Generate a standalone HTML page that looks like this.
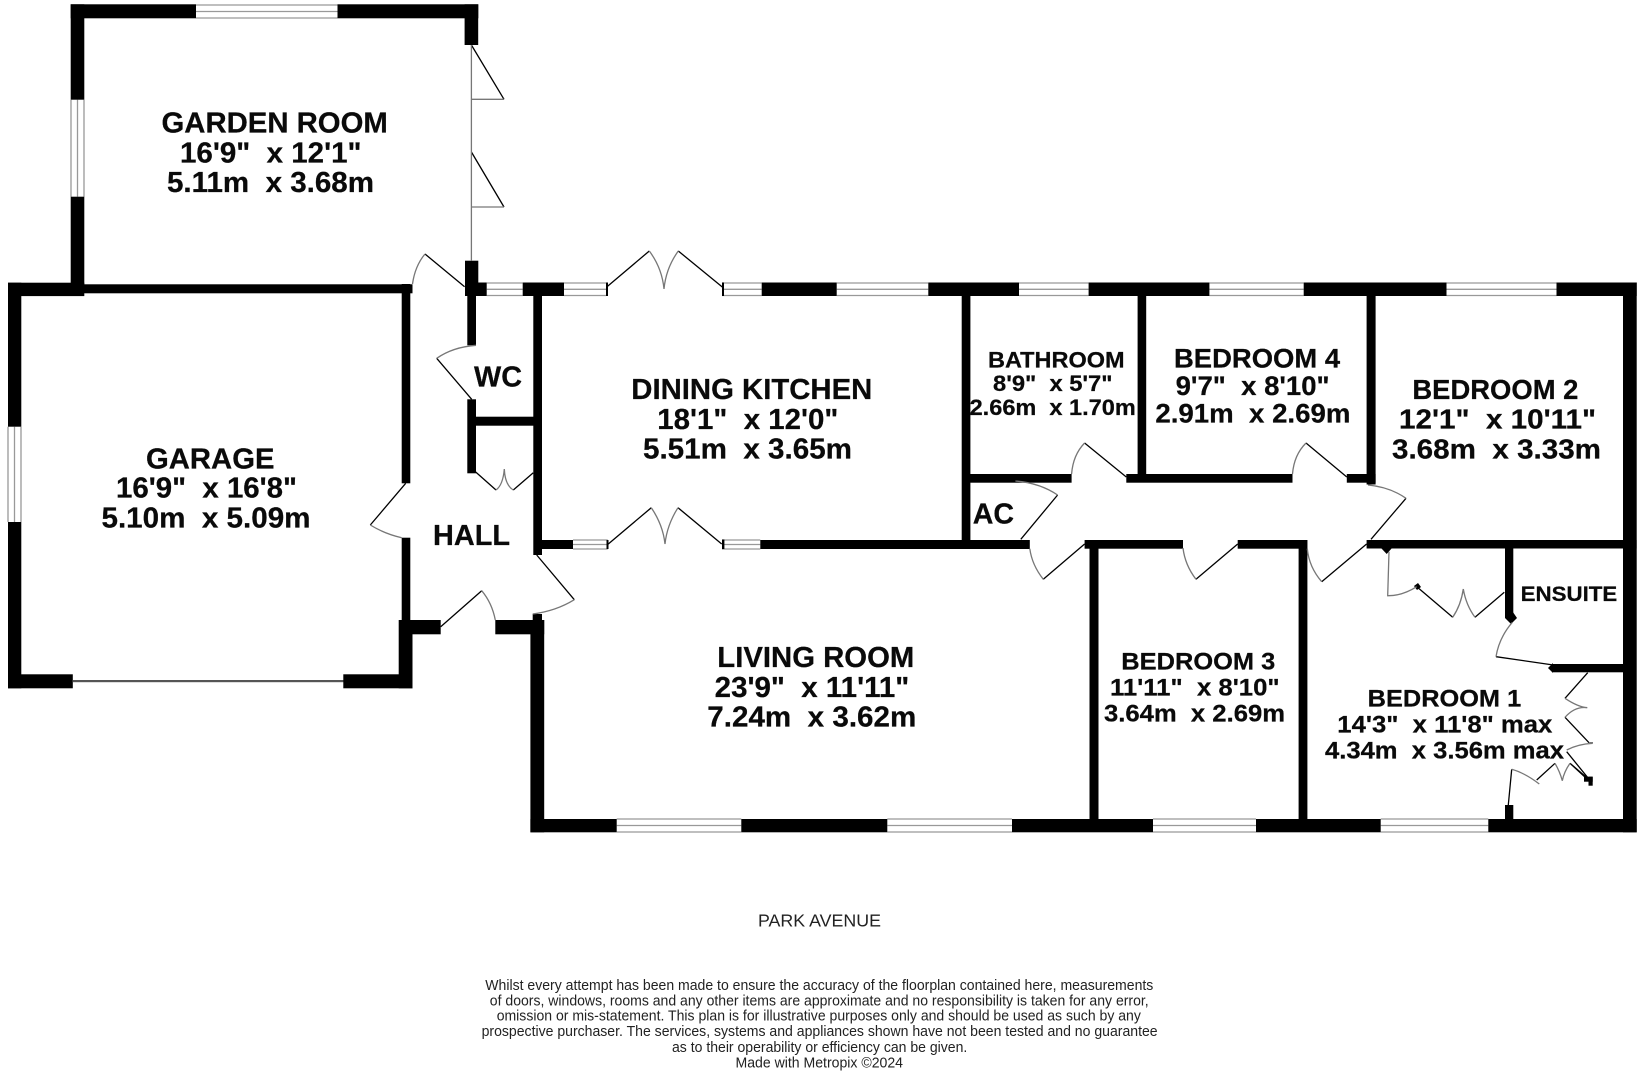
<!DOCTYPE html>
<html><head><meta charset="utf-8"><title>Floor plan</title>
<style>
html,body{margin:0;padding:0;background:#fff}
svg{display:block}
text{font-family:"Liberation Sans",sans-serif;white-space:pre;fill:#0a0a0a}
.b{font-weight:bold}
.b text{stroke:#0a0a0a;stroke-width:.25}
.w{fill:#000}
.g{fill:none;stroke:#777;stroke-width:1.3}
.l{fill:none;stroke:#000;stroke-width:1.3}
.win{fill:none;stroke:#999;stroke-width:1.3}
.f{fill:#222}
.f text{fill:#222}
</style></head><body>
<svg width="1644" height="1075" viewBox="0 0 1644 1075" xmlns="http://www.w3.org/2000/svg">
<rect width="1644" height="1075" fill="#fff"/>
<!-- windows (gray lines) -->
<path class="win" d="M196,5H337.5M196,11.5H337.5M196,18H337.5
M71,99.7V196.7M77.5,99.7V196.7M84,99.7V196.7
M8,426.7V522M14.5,426.7V522M21,426.7V522
M486.7,283H522.7M486.7,289.3H522.7M486.7,295.5H522.7
M564,283H606M564,289.3H606M564,295.5H606
M722,283H761.7M722,289.3H761.7M722,295.5H761.7
M836.7,283H928.3M836.7,289.3H928.3M836.7,295.5H928.3
M1019,283H1088.6M1019,289.3H1088.6M1019,295.5H1088.6
M1209.4,283H1303.7M1209.4,289.3H1303.7M1209.4,295.5H1303.7
M1446.5,283H1556.5M1446.5,289.3H1556.5M1446.5,295.5H1556.5
M573,540H607.7M573,544.5H607.7M573,549H607.7
M722,540H760.3M722,544.5H760.3M722,549H760.3
M616.7,819H741.3M616.7,825.5H741.3M616.7,832H741.3
M887.3,819H1012M887.3,825.5H1012M887.3,832H1012
M1153,819H1256M1153,825.5H1256M1153,832H1256
M1380.7,819H1488.3M1380.7,825.5H1488.3M1380.7,832H1488.3"/>
<rect x="73" y="680" width="270.5" height="2.2" fill="#555"/>
<!-- walls -->
<g class="w">
<rect x="70.7" y="4.3" width="125.3" height="14"/>
<rect x="337.5" y="4.3" width="140.8" height="14"/>
<rect x="70.7" y="4.3" width="13.6" height="95.4"/>
<rect x="70.7" y="196.7" width="13.6" height="96"/>
<rect x="464.6" y="4.3" width="13.6" height="40.7"/>
<rect x="465" y="260.7" width="13.3" height="35.3"/>
<rect x="465" y="282.5" width="21.7" height="13.5"/>
<rect x="8" y="282.7" width="76.3" height="13.4"/>
<rect x="84" y="284.3" width="328.5" height="9"/>
<rect x="8" y="282.7" width="13.3" height="144"/>
<rect x="8" y="522" width="13.3" height="166.3"/>
<rect x="8" y="674.3" width="64.8" height="14"/>
<rect x="343.3" y="674.3" width="69.2" height="14"/>
<rect x="401.7" y="284" width="8.6" height="199.3"/>
<rect x="401.7" y="537.7" width="8.6" height="83"/>
<rect x="398.7" y="620" width="13.8" height="68.3"/>
<rect x="399" y="620" width="41.7" height="14.3"/>
<rect x="495.3" y="620" width="48.9" height="14.3"/>
<rect x="532.7" y="614" width="9.3" height="12"/>
<rect x="467.3" y="296" width="8.7" height="49.3"/>
<rect x="467.3" y="399.3" width="8.7" height="74"/>
<rect x="476" y="416.7" width="58" height="9"/>
<rect x="533.3" y="282.5" width="8.7" height="272.5"/>
<rect x="522.7" y="282.5" width="41.3" height="13.5"/>
<rect x="761.7" y="282.5" width="75" height="13.5"/>
<rect x="928.3" y="282.5" width="90.7" height="13.5"/>
<rect x="1088.6" y="282.5" width="120.8" height="13.5"/>
<rect x="1303.7" y="282.5" width="142.8" height="13.5"/>
<rect x="1556.5" y="282.5" width="80.2" height="13.5"/>
<rect x="1623" y="282.5" width="13.7" height="549.8"/>
<rect x="961.7" y="282.5" width="8.7" height="266"/>
<rect x="1137.6" y="282.5" width="8.6" height="195"/>
<rect x="1366.6" y="282.5" width="9" height="202"/>
<rect x="970" y="474" width="101.6" height="8.7"/>
<rect x="1126.3" y="474" width="166.2" height="8.7"/>
<rect x="1346.8" y="474" width="28.8" height="8.7"/>
<rect x="542" y="540" width="31" height="9"/>
<rect x="760.3" y="540" width="269.5" height="9"/>
<rect x="1084.6" y="540" width="98.4" height="8.7"/>
<rect x="1237.7" y="540" width="69.6" height="8.7"/>
<rect x="1366.6" y="540" width="270" height="8.5"/>
<rect x="530.4" y="620" width="13.8" height="212.3"/>
<rect x="530.4" y="819" width="86.3" height="13.3"/>
<rect x="741.3" y="819" width="146" height="13.3"/>
<rect x="1012" y="819" width="141" height="13.3"/>
<rect x="1256" y="819" width="124.7" height="13.3"/>
<rect x="1488.3" y="819" width="148.4" height="13.3"/>
<rect x="1089.5" y="540" width="9" height="285"/>
<rect x="1298.6" y="540" width="8.8" height="285"/>
<rect x="1505" y="548" width="8.3" height="70"/>
<rect x="1553" y="664" width="70" height="8.3"/>
<rect x="1505" y="805" width="8.3" height="15"/>
<rect x="1584" y="776.7" width="8.7" height="5"/>
<rect x="1588.5" y="776.7" width="4.2" height="9"/>
<rect x="606" y="282.5" width="2" height="13.5"/>
<rect x="722" y="282.5" width="2" height="13.5"/>
<rect x="606.5" y="540" width="2" height="9"/>
<rect x="722" y="539.5" width="2.4" height="9.5"/>
<path d="M1505,616L1511.5,610 1517,618 1511,624 1505,618Z"/>
<path d="M1553,663L1548,668 1553,673Z"/>
<path d="M1381,548H1392L1386.7,554Z"/>
<path d="M1414,586L1418,583 1421,587 1417,590Z"/>
</g>
<!-- door leaves -->
<path class="l" d="M464.6,286.7L425,254
M405.7,483.3L370.3,525
M436.7,358.3L471.7,399.3
M472.3,469L496,490M513.3,490L533.3,472.7
M607,286.7L649.3,251M678.3,251L722.3,287
M608.3,544L651.3,507.7M678,507.7L721.7,544
M536.7,555L574.3,599.7
M440.7,626.7L481.7,590.7
M471.4,45L504,99.3M471.4,152L504,207
M1084.6,443L1126.3,477M1306,443L1346.8,477
M1057.6,495L1020.8,539.3M1406,498.3L1371,539.3
M1043.3,579.3L1084.6,544M1196,579.3L1237.7,544M1321.7,581.7L1366.6,544
M1418.3,588L1452.7,617.3M1475,617.3L1504.3,592.3
M1496,656.7L1553.3,665
M1587.7,672.7L1565,698.3M1565,717.3L1589,742.7
M1566.7,751.7L1588.3,778.3M1570,763.3L1586,778
M1536.7,780L1555,763.3M1570,763.3L1586,777
M1511.7,769.3L1508.3,805"/>
<!-- door swings -->
<path class="g" d="M412.5,284Q415,266 425,254
M401.7,537.7Q385,534 370.3,525
M476,345.3Q453,347 436.7,358.3
M496,490Q503,485 504.3,469M513.3,490Q505,485 504.3,469
M649.3,251Q662,268 664,289M678.3,251Q666,268 664,289
M651.3,507.7Q663,525 665,544M678,507.7Q667,525 665,544
M574.3,599.7Q556,611 532.7,614
M481.7,590.7Q492,603 495.3,620
M471.4,45V261M471.4,99.3H504M471.4,207H504
M1071.6,474Q1073,455 1084.6,443M1292.5,474Q1294,455 1306,443
M1015.4,481Q1040,483 1057.6,495M1368,485Q1390,487 1406,498.3
M1029.8,548.7Q1032,565 1043.3,579.3M1183,548Q1185,565 1196,579.3M1307.3,548.7Q1309,567 1321.7,581.7
M1389,551.7L1387.7,595.7Q1402,596 1416.7,586.7
M1452.7,617.3Q1461,605 1463.3,589M1475,617.3Q1466,605 1463.3,589
M1512,622.7Q1499,638 1496,656.7
M1565,698.3Q1578,707 1587.3,707.7Q1575,706 1565,717.3
M1589,742.7H1593M1592.7,743.3Q1578,744 1566.7,750
M1555,763.3Q1560,772 1562.3,780.7Q1564,772 1570,763.3
M1539.3,784Q1525,773 1511.7,769.3"/>
<!-- labels -->
<g class="b" font-size="28.5">
<text x="161.5" y="132.7" textLength="226.3" lengthAdjust="spacingAndGlyphs">GARDEN ROOM</text>
<text x="180" y="162.7" textLength="181.5" lengthAdjust="spacingAndGlyphs">16'9"  x 12'1"</text>
<text x="167" y="192" textLength="207" lengthAdjust="spacingAndGlyphs">5.11m  x 3.68m</text>
<text x="146" y="468.3" textLength="128.5" lengthAdjust="spacingAndGlyphs">GARAGE</text>
<text x="116" y="497.7" textLength="181" lengthAdjust="spacingAndGlyphs">16'9"  x 16'8"</text>
<text x="101.5" y="527.3" textLength="209" lengthAdjust="spacingAndGlyphs">5.10m  x 5.09m</text>
<text x="631.3" y="399" textLength="241" lengthAdjust="spacingAndGlyphs">DINING KITCHEN</text>
<text x="657.3" y="429" textLength="181" lengthAdjust="spacingAndGlyphs">18'1"  x 12'0"</text>
<text x="643" y="458.3" textLength="209" lengthAdjust="spacingAndGlyphs">5.51m  x 3.65m</text>
<text x="433" y="545" textLength="77" lengthAdjust="spacingAndGlyphs">HALL</text>
<text x="474" y="386.7" textLength="48" lengthAdjust="spacingAndGlyphs">WC</text>
<text x="972.7" y="523.3" textLength="41.3" lengthAdjust="spacingAndGlyphs">AC</text>
<text x="717.3" y="667" textLength="197" lengthAdjust="spacingAndGlyphs">LIVING ROOM</text>
<text x="714.7" y="697" textLength="194.6" lengthAdjust="spacingAndGlyphs">23'9"  x 11'11"</text>
<text x="707.3" y="726.7" textLength="209" lengthAdjust="spacingAndGlyphs">7.24m  x 3.62m</text>
</g>
<g class="b" font-size="22">
<text x="988" y="367.3" textLength="136.6" lengthAdjust="spacingAndGlyphs">BATHROOM</text>
<text x="993" y="391" textLength="119.5" lengthAdjust="spacingAndGlyphs">8'9"  x 5'7"</text>
<text x="969.6" y="415" textLength="166.2" lengthAdjust="spacingAndGlyphs">2.66m  x 1.70m</text>
<text x="1520.7" y="601" textLength="96.6" lengthAdjust="spacingAndGlyphs" font-size="21.5">ENSUITE</text>
</g>
<g class="b" font-size="26.5">
<text x="1174" y="367.5" textLength="166.1" lengthAdjust="spacingAndGlyphs">BEDROOM 4</text>
<text x="1175.6" y="395" textLength="154" lengthAdjust="spacingAndGlyphs">9'7"  x 8'10"</text>
<text x="1155.4" y="422.3" textLength="195" lengthAdjust="spacingAndGlyphs">2.91m  x 2.69m</text>
<text x="1412.4" y="399" textLength="166" lengthAdjust="spacingAndGlyphs" font-size="27.5">BEDROOM 2</text>
<text x="1399" y="428.3" textLength="197" lengthAdjust="spacingAndGlyphs" font-size="27.5">12'1"  x 10'11"</text>
<text x="1392" y="458.3" textLength="209" lengthAdjust="spacingAndGlyphs" font-size="27.5">3.68m  x 3.33m</text>
</g>
<g class="b" font-size="24">
<text x="1121.3" y="669.3" textLength="154" lengthAdjust="spacingAndGlyphs">BEDROOM 3</text>
<text x="1110" y="695.3" textLength="169.6" lengthAdjust="spacingAndGlyphs">11'11"  x 8'10"</text>
<text x="1104" y="721.7" textLength="181" lengthAdjust="spacingAndGlyphs">3.64m  x 2.69m</text>
<text x="1367.7" y="706.7" textLength="153.5" lengthAdjust="spacingAndGlyphs">BEDROOM 1</text>
<text x="1337.3" y="732.7" textLength="215" lengthAdjust="spacingAndGlyphs">14'3"  x 11'8" max</text>
<text x="1325" y="758.3" textLength="239" lengthAdjust="spacingAndGlyphs">4.34m  x 3.56m max</text>
</g>
<text class="f" x="758" y="926.7" font-size="17.5" textLength="123" lengthAdjust="spacingAndGlyphs" style="fill:#222">PARK AVENUE</text>
<g class="f" font-size="14.4">
<text x="485.3" y="990" textLength="668" lengthAdjust="spacingAndGlyphs">Whilst every attempt has been made to ensure the accuracy of the floorplan contained here, measurements</text>
<text x="489.8" y="1005.3" textLength="658.9" lengthAdjust="spacingAndGlyphs">of doors, windows, rooms and any other items are approximate and no responsibility is taken for any error,</text>
<text x="496.7" y="1020.7" textLength="644.2" lengthAdjust="spacingAndGlyphs">omission or mis-statement. This plan is for illustrative purposes only and should be used as such by any</text>
<text x="481.6" y="1036" textLength="676" lengthAdjust="spacingAndGlyphs">prospective purchaser. The services, systems and appliances shown have not been tested and no guarantee</text>
<text x="672" y="1052" textLength="295.3" lengthAdjust="spacingAndGlyphs">as to their operability or efficiency can be given.</text>
<text x="735.5" y="1067.3" textLength="167.5" lengthAdjust="spacingAndGlyphs">Made with Metropix ©2024</text>
</g>
</svg>
</body></html>
